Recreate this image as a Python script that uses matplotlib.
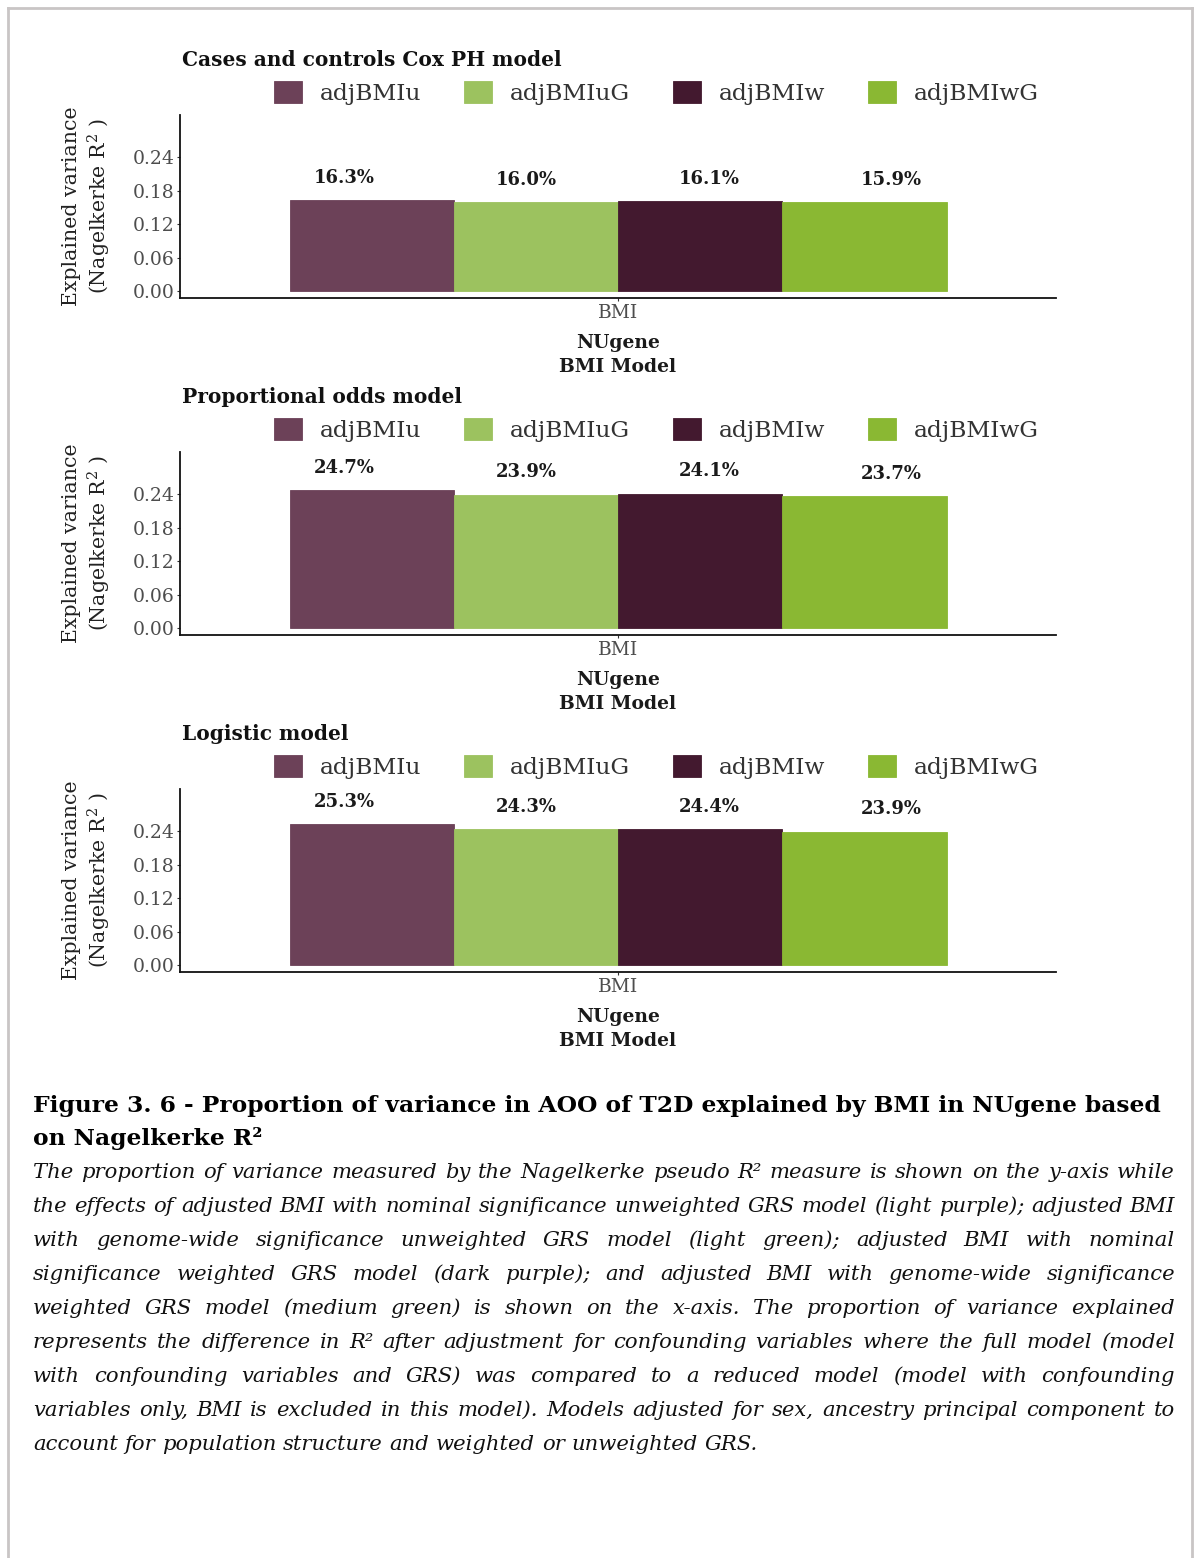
import matplotlib
matplotlib.use('Agg')
import matplotlib.pyplot as plt
from matplotlib.lines import Line2D
import numpy as np

# ---------------- data ----------------
models = ['adjBMIu', 'adjBMIuG', 'adjBMIw', 'adjBMIwG']
colors = ['#6c4158', '#9cc25f', '#43192f', '#8ab833']
panel_titles = ['Cases and controls Cox PH model', 'Proportional odds model', 'Logistic model']
cox_values = [0.163, 0.160, 0.161, 0.159]
po_values = [0.247, 0.239, 0.241, 0.237]
logit_values = [0.253, 0.243, 0.244, 0.239]
x_category = ['BMI']
y_ticks = [0.00, 0.06, 0.12, 0.18, 0.24]
y_tick_labels = ['0.00', '0.06', '0.12', '0.18', '0.24']
x_label = 'NUgene\nBMI Model'
y_label = 'Explained variance\n(Nagelkerke R$^{2}$ )'

heading_lines = [
    'Figure 3. 6 - Proportion of variance in AOO of T2D explained by BMI in NUgene based',
    'on Nagelkerke R\u00b2',
]
caption_lines = [
    'The proportion of variance measured by the Nagelkerke  pseudo R\u00b2 measure is shown on the y-axis while',
    'the effects of adjusted BMI with nominal significance unweighted GRS model (light purple); adjusted BMI',
    'with genome-wide significance unweighted GRS model (light green); adjusted BMI with nominal',
    'significance weighted GRS model (dark purple); and adjusted BMI with genome-wide  significance',
    'weighted GRS model (medium green) is shown on the x-axis. The proportion of variance explained',
    'represents the difference in R\u00b2 after adjustment for confounding variables where the full model (model',
    'with confounding variables and GRS) was compared to a reduced model (model with confounding',
    'variables only, BMI is excluded in this model).  Models adjusted for sex, ancestry principal component to',
    'account for population structure and weighted or unweighted GRS.',
]

# ---------------- setup ----------------
W, H, DPI = 1197, 1558, 100
plt.rcParams['font.family'] = ['DejaVu Serif']
plt.rcParams['mathtext.fontset'] = 'dejavuserif'

fig = plt.figure(figsize=(W / DPI, H / DPI), dpi=DPI)
fig.patch.set_facecolor('white')


def fx(px):
    return px / W


def fy(py):
    return 1 - py / H


# page frame (left, top, right; open at the bottom)
frame_col = '#c9c5c5'
for xs, ys in [((8, 8), (8, H)), ((8, 1192), (8, 8)), ((1192, 1192), (8, H))]:
    fig.add_artist(Line2D([fx(x) for x in xs], [fy(y) for y in ys],
                          color=frame_col, lw=2.0, transform=fig.transFigure))

panel_values = [cox_values, po_values, logit_values]
panel_tops = [115, 452, 789]
panel_bottoms = [298, 635, 972]
left_px, right_px = 180, 1056

bar_w = 0.225
label_step = 0.25
offs = np.arange(len(models)) - (len(models) - 1) / 2

for title, values, top, bot in zip(panel_titles, panel_values, panel_tops, panel_bottoms):
    ax = fig.add_axes([fx(left_px), fy(bot), (right_px - left_px) / W, (bot - top) / H])
    for i, (m, c, v) in enumerate(zip(models, colors, values)):
        ax.bar(0 + offs[i] * bar_w, v, width=bar_w, color=c, label=m,
               linewidth=0.6, edgecolor=c)
        ax.annotate(f'{v * 100:.1f}%', xy=(0 + offs[i] * label_step, v),
                    xytext=(0, 16), textcoords='offset points', ha='center',
                    va='center', fontweight='bold', fontsize=13, color='#1a1a1a')
    ax.set_xlim(-0.6, 0.6)
    ax.set_ylim(-0.0125, 0.3154)
    ax.set_xticks([0])
    ax.set_xticklabels(x_category)
    ax.set_yticks(y_ticks)
    ax.set_yticklabels(y_tick_labels)
    ax.tick_params(axis='both', length=2.5, width=0.8, color='#333333',
                   labelcolor='#4d4d4d', labelsize=13.5, pad=1.5)
    for s in ['top', 'right']:
        ax.spines[s].set_visible(False)
    for s in ['left', 'bottom']:
        ax.spines[s].set_linewidth(1.3)
        ax.spines[s].set_color('#111111')
    ax.set_xlabel(x_label, fontweight='bold', fontsize=13.5, color='#1a1a1a',
                  labelpad=9, linespacing=1.45)
    ax.set_ylabel(y_label, fontsize=14.8, color='#222222', labelpad=14,
                  linespacing=1.25)
    ax.annotate(title, xy=(0, 1), xycoords='axes fraction', xytext=(1.5, 39.6),
                textcoords='offset points', ha='left', va='center',
                fontweight='bold', fontsize=14.5, color='#111111')
    leg = ax.legend(ncol=4, loc='center left',
                    bbox_to_anchor=((274 - left_px) / (right_px - left_px),
                                    1 + 22 / (bot - top)),
                    frameon=False, fontsize=16.8, handlelength=1.2, handleheight=1.1,
                    handletextpad=0.75, columnspacing=1.85, borderpad=0,
                    borderaxespad=0)
    for t in leg.get_texts():
        t.set_color('#333333')

# ---------------- caption ----------------
renderer = fig.canvas.get_renderer()


def text_width(s, **kw):
    t = fig.text(0, 0, s, **kw)
    w = t.get_window_extent(renderer).width
    t.remove()
    return w


cap_left, cap_right = 33, 1175

# heading (bold, left aligned)
hsize = 15.0
w0 = text_width(heading_lines[0], fontsize=hsize, fontweight='bold')
hsize = hsize * (1168 - 33) / w0
for line, base in zip(heading_lines, [1112, 1145]):
    fig.text(fx(cap_left), fy(base), line, fontsize=hsize, fontweight='bold',
             va='baseline', ha='left', color='#000000')

# italic justified paragraph
isize = 15.0
sp = text_width('x x', fontsize=isize, style='italic') - text_width('xx', fontsize=isize, style='italic')
nat = []
for line in caption_lines:
    words = line.split()
    nat.append(sum(text_width(wd, fontsize=isize, style='italic') for wd in words) + sp * (len(words) - 1))
isize = isize * (cap_right - cap_left) * 0.998 / max(nat)
sp = text_width('x x', fontsize=isize, style='italic') - text_width('xx', fontsize=isize, style='italic')

for k, line in enumerate(caption_lines):
    base = 1171 + 34 * k + 7
    words = line.split()
    widths = [text_width(wd, fontsize=isize, style='italic') for wd in words]
    if k < len(caption_lines) - 1 and len(words) > 1:
        gap = (cap_right - cap_left - sum(widths)) / (len(words) - 1)
    else:
        gap = sp
    x = cap_left
    for wd, wdt in zip(words, widths):
        fig.text(fx(x), fy(base), wd, fontsize=isize, style='italic',
                 va='baseline', ha='left', color='#111111')
        x += wdt + gap

fig.savefig('out.png', dpi=DPI, facecolor='white')
